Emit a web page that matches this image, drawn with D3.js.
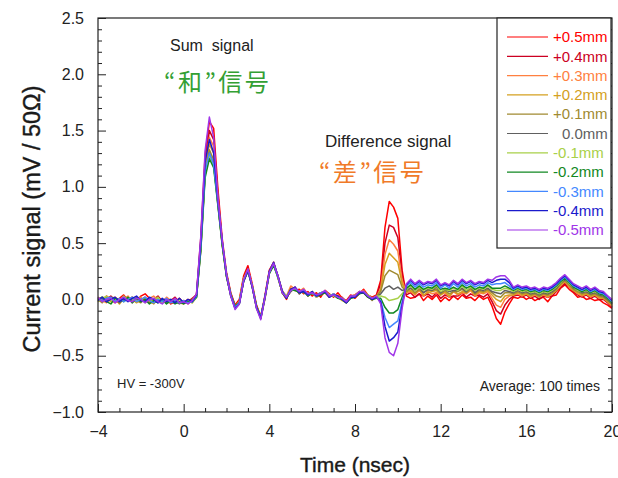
<!DOCTYPE html>
<html>
<head>
<meta charset="utf-8">
<script src="https://cdn.jsdelivr.net/npm/d3@7"></script>
<style>
  body { margin: 0; background: #fff; }
  svg { font-family: Arial, "Liberation Sans", sans-serif; }
</style>
</head>
<body>
<div id="viz"></div>
<script>
// sample times (nsec)
const time = [
  -4,-3.8,-3.6,-3.4,-3.2,-3,-2.8,-2.6,-2.4,-2.2,
  -2,-1.8,-1.6,-1.4,-1.2,-1,-0.8,-0.6,-0.4,-0.2,
  0,0.2,0.4,0.6,0.8,1,1.2,1.4,1.6,1.8,
  2,2.2,2.4,2.6,2.8,3,3.2,3.4,3.6,3.8,
  4,4.2,4.4,4.6,4.8,5,5.2,5.4,5.6,5.8,
  6,6.2,6.4,6.6,6.8,7,7.2,7.4,7.6,7.8,
  8,8.2,8.4,8.6,8.8,9,9.2,9.4,9.6,9.8,
  10,10.2,10.4,10.6,10.8,11,11.2,11.4,11.6,11.8,
  12,12.2,12.4,12.6,12.8,13,13.2,13.4,13.6,13.8,
  14,14.2,14.4,14.6,14.8,15,15.2,15.4,15.6,15.8,
  16,16.2,16.4,16.6,16.8,17,17.2,17.4,17.6,17.8,
  18,18.2,18.4,18.6,18.8,19,19.2,19.4,19.6,19.8,
  20
];

const labels = ['+0.5mm','+0.4mm','+0.3mm','+0.2mm','+0.1mm','0.0mm','-0.1mm','-0.2mm','-0.3mm','-0.4mm','-0.5mm'];

// current signal (mV / 50 ohm) per beam offset
const sigP05 = [0.01,-0.02,0.03,0.00,-0.03,0.01,0.04,-0.01,0.02,-0.02,0.03,0.05,0.01,-0.03,0.02,-0.01,0.01,-0.04,-0.02,0.01,-0.03,0.00,-0.01,
  0.05,0.55,1.28,1.58,1.52,0.98,0.54,
  0.24,0.06,-0.05,0.0,0.21,0.3,0.14,-0.05,-0.15,0.04,0.26,0.33,0.2,0.06,0.0,
  0.1,0.08,0.09,0.05,0.07,0.03,0.06,0.02,0.08,0.05,0.02,0.06,0.01,-0.01,0.04,0.01,0.05,0.09,0.04,0.02,0.04,
  0.17,0.64,0.87,0.82,0.72,0.26,
  0.03,0.01,0.02,0.05,-0.01,0.03,0.0,0.04,-0.02,0.02,-0.01,0.03,0.0,0.04,0.01,0.02,-0.01,0.03,0.0,0.02,
  -0.06,-0.17,-0.22,-0.11,-0.04,
  0.02,0.01,0.03,0.0,0.02,-0.01,0.01,0.02,-0.02,0.03,0.04,0.1,0.13,0.09,0.06,0.02,0.03,0.0,0.01,-0.01,0.0,-0.03,-0.05,-0.08];
const sigP04 = [-0.02,0.01,0.00,0.03,-0.01,-0.03,0.02,0.00,-0.02,0.01,-0.01,0.02,-0.03,0.00,0.03,-0.02,0.00,-0.01,0.02,-0.03,-0.01,-0.02,0.01,
  0.04,0.5,1.22,1.5,1.42,0.93,0.5,
  0.22,0.05,-0.06,-0.02,0.19,0.28,0.12,-0.06,-0.16,0.03,0.25,0.32,0.21,0.08,0.02,
  0.07,0.11,0.05,0.09,0.03,0.07,0.02,0.04,0.06,0.02,0.05,0.01,0.02,-0.02,0.03,0.04,0.07,0.06,0.02,0.01,0.03,
  0.14,0.5,0.66,0.64,0.55,0.22,
  0.04,0.06,0.02,0.05,0.03,0.05,0.02,0.06,0.01,0.04,0.02,0.03,0.03,0.06,0.02,0.05,0.03,0.04,0.02,0.05,
  -0.02,-0.1,-0.13,-0.05,0.0,
  0.03,0.04,0.02,0.04,0.01,0.03,0.0,0.03,0.02,0.03,0.07,0.11,0.14,0.11,0.07,0.04,0.02,0.04,0.01,0.03,0.0,0.0,-0.03,-0.07];
const sigP03 = [0.02,-0.01,-0.03,0.01,0.02,-0.01,0.00,0.03,-0.02,0.00,0.02,-0.02,0.01,0.03,-0.01,-0.03,0.02,-0.01,-0.03,0.00,-0.02,-0.04,0.00,
  0.03,0.48,1.18,1.44,1.36,0.9,0.5,
  0.2,0.04,-0.07,-0.03,0.18,0.27,0.11,-0.07,-0.17,0.01,0.23,0.33,0.19,0.07,0.03,
  0.12,0.09,0.07,0.1,0.04,0.05,0.04,0.06,0.07,0.04,0.03,0.04,0.0,-0.02,0.02,0.04,0.06,0.08,0.03,0.0,0.02,
  0.1,0.4,0.53,0.49,0.43,0.17,
  0.06,0.07,0.04,0.08,0.03,0.07,0.05,0.06,0.04,0.06,0.02,0.07,0.04,0.06,0.05,0.08,0.03,0.06,0.05,0.07,
  0.01,-0.05,-0.07,0.0,0.03,
  0.04,0.05,0.03,0.05,0.02,0.04,0.02,0.04,0.02,0.05,0.08,0.12,0.16,0.11,0.08,0.05,0.03,0.05,0.02,0.04,0.01,0.01,-0.02,-0.06];
const sigP02 = [-0.01,0.02,0.01,-0.02,0.01,-0.04,0.01,0.02,0.00,-0.03,0.00,0.01,-0.02,-0.04,0.01,-0.01,-0.03,-0.02,0.00,-0.03,-0.04,-0.01,-0.03,
  0.02,0.45,1.15,1.38,1.3,0.87,0.48,
  0.21,0.03,-0.06,-0.02,0.16,0.25,0.13,-0.06,-0.15,0.02,0.24,0.31,0.2,0.07,0.01,
  0.08,0.1,0.06,0.07,0.05,0.06,0.03,0.05,0.06,0.03,0.04,0.02,-0.01,-0.03,0.02,0.02,0.05,0.07,0.04,0.01,0.02,
  0.08,0.31,0.41,0.37,0.33,0.14,
  0.07,0.08,0.05,0.09,0.04,0.06,0.07,0.08,0.04,0.07,0.03,0.08,0.05,0.07,0.06,0.09,0.04,0.07,0.06,0.08,
  0.04,0.0,-0.02,0.03,0.04,
  0.04,0.06,0.04,0.05,0.03,0.05,0.02,0.05,0.03,0.05,0.08,0.13,0.16,0.12,0.08,0.06,0.04,0.05,0.03,0.04,0.02,0.01,-0.02,-0.05];
const sigP01 = [0.00,-0.03,0.02,0.00,-0.02,0.00,-0.01,0.00,0.02,-0.01,-0.03,0.01,-0.01,0.00,-0.02,-0.03,0.00,-0.03,-0.01,-0.02,-0.03,-0.02,-0.01,
  0.03,0.47,1.12,1.33,1.24,0.85,0.5,
  0.22,0.05,-0.07,-0.04,0.17,0.26,0.12,-0.07,-0.16,0.02,0.24,0.31,0.2,0.06,0.02,
  0.09,0.08,0.07,0.06,0.05,0.07,0.03,0.04,0.08,0.03,0.05,0.02,0.01,-0.02,0.01,0.03,0.06,0.06,0.03,-0.01,0.03,
  0.07,0.21,0.26,0.24,0.22,0.11,
  0.07,0.1,0.06,0.09,0.06,0.08,0.08,0.09,0.05,0.08,0.05,0.07,0.07,0.09,0.06,0.1,0.05,0.08,0.07,0.09,
  0.06,0.03,0.02,0.06,0.06,
  0.05,0.07,0.05,0.06,0.04,0.05,0.03,0.05,0.04,0.06,0.09,0.14,0.17,0.13,0.09,0.07,0.05,0.06,0.04,0.05,0.03,0.02,-0.01,-0.04];
const sig00 = [0.01,0.00,-0.02,0.02,0.01,-0.03,0.00,0.01,-0.03,0.02,-0.02,-0.01,0.01,-0.03,-0.01,-0.02,-0.03,0.00,-0.02,-0.04,-0.02,-0.03,0.00,
  0.02,0.44,1.1,1.3,1.2,0.84,0.49,
  0.23,0.04,-0.08,-0.03,0.17,0.25,0.11,-0.08,-0.16,0.03,0.23,0.31,0.21,0.07,0.02,
  0.07,0.1,0.05,0.08,0.04,0.05,0.04,0.06,0.07,0.02,0.04,0.03,0.0,-0.03,0.03,0.03,0.06,0.07,0.02,0.0,0.02,
  0.05,0.1,0.12,0.09,0.11,0.08,
  0.09,0.1,0.08,0.11,0.06,0.09,0.08,0.11,0.06,0.09,0.07,0.08,0.08,0.1,0.07,0.11,0.06,0.09,0.08,0.1,
  0.07,0.06,0.05,0.08,0.07,
  0.06,0.08,0.06,0.07,0.05,0.06,0.04,0.06,0.05,0.07,0.1,0.15,0.18,0.14,0.1,0.08,0.06,0.07,0.05,0.06,0.04,0.03,0.0,-0.04];
const sigM01 = [-0.02,0.01,0.03,-0.01,0.00,-0.02,0.03,-0.01,0.00,-0.01,0.01,-0.03,0.00,-0.01,0.02,-0.03,-0.01,-0.02,-0.03,0.00,-0.02,-0.01,-0.03,
  0.03,0.46,1.12,1.28,1.19,0.85,0.5,
  0.21,0.03,-0.07,-0.02,0.18,0.26,0.12,-0.07,-0.17,0.01,0.24,0.32,0.19,0.07,0.03,
  0.08,0.09,0.06,0.08,0.05,0.06,0.02,0.05,0.07,0.04,0.03,0.02,0.01,-0.02,0.02,0.03,0.07,0.06,0.04,0.01,0.03,
  0.03,0.02,-0.01,0.0,0.01,0.05,
  0.09,0.12,0.08,0.11,0.08,0.1,0.09,0.12,0.07,0.09,0.08,0.1,0.08,0.12,0.08,0.11,0.08,0.1,0.09,0.12,
  0.09,0.08,0.08,0.1,0.09,
  0.07,0.09,0.07,0.08,0.06,0.07,0.05,0.07,0.06,0.08,0.11,0.15,0.19,0.14,0.11,0.08,0.07,0.08,0.06,0.07,0.05,0.04,0.01,-0.03];
const sigM02 = [0.00,0.02,-0.02,-0.04,0.01,0.00,-0.02,0.02,-0.03,0.01,-0.02,0.00,-0.04,-0.01,-0.03,0.00,-0.04,-0.01,-0.04,-0.02,-0.04,-0.02,-0.02,
  0.02,0.43,1.08,1.25,1.17,0.83,0.48,
  0.2,0.04,-0.06,-0.03,0.16,0.25,0.12,-0.06,-0.16,0.02,0.23,0.3,0.2,0.06,0.01,
  0.09,0.08,0.06,0.07,0.03,0.06,0.03,0.04,0.06,0.03,0.04,0.01,0.0,-0.03,0.01,0.02,0.05,0.06,0.02,0.0,0.01,
  0.01,-0.07,-0.12,-0.12,-0.09,0.02,
  0.1,0.13,0.09,0.12,0.09,0.11,0.1,0.13,0.09,0.1,0.09,0.11,0.09,0.13,0.1,0.12,0.09,0.11,0.1,0.13,
  0.1,0.1,0.1,0.12,0.1,
  0.08,0.1,0.08,0.09,0.07,0.08,0.06,0.08,0.07,0.09,0.12,0.16,0.19,0.15,0.11,0.09,0.07,0.09,0.06,0.08,0.05,0.04,0.01,-0.03];
const sigM03 = [0.01,-0.01,0.01,0.02,-0.02,0.01,-0.02,0.00,0.02,-0.02,0.00,0.02,-0.01,-0.03,0.00,-0.02,0.01,-0.03,-0.01,-0.03,-0.01,-0.03,-0.02,
  0.03,0.48,1.14,1.3,1.2,0.86,0.51,
  0.22,0.04,-0.07,-0.03,0.17,0.26,0.12,-0.07,-0.16,0.03,0.24,0.32,0.2,0.07,0.02,
  0.08,0.1,0.07,0.08,0.04,0.06,0.03,0.06,0.07,0.03,0.05,0.02,0.0,-0.02,0.02,0.03,0.06,0.07,0.03,0.01,0.02,
  -0.01,-0.16,-0.25,-0.22,-0.19,-0.02,
  0.12,0.15,0.11,0.14,0.11,0.13,0.12,0.15,0.1,0.13,0.1,0.14,0.11,0.15,0.12,0.14,0.11,0.13,0.12,0.15,
  0.13,0.14,0.14,0.15,0.12,
  0.09,0.11,0.09,0.1,0.08,0.09,0.07,0.09,0.08,0.1,0.13,0.17,0.2,0.16,0.12,0.1,0.08,0.1,0.07,0.09,0.06,0.05,0.02,-0.02];
const sigM04 = [-0.01,0.02,-0.02,0.00,0.02,-0.02,0.01,-0.02,0.01,0.03,-0.01,-0.02,0.02,0.00,-0.03,0.01,-0.02,0.00,-0.03,0.01,-0.03,0.00,-0.02,
  0.04,0.52,1.22,1.42,1.3,0.88,0.52,
  0.21,0.03,-0.08,-0.04,0.16,0.26,0.11,-0.07,-0.17,0.02,0.25,0.33,0.21,0.07,0.01,
  0.09,0.11,0.06,0.07,0.04,0.07,0.03,0.05,0.07,0.02,0.04,0.03,0.0,-0.03,0.02,0.02,0.06,0.06,0.03,0.0,0.02,
  -0.02,-0.24,-0.37,-0.34,-0.29,-0.05,
  0.13,0.17,0.13,0.16,0.13,0.15,0.14,0.17,0.12,0.14,0.12,0.16,0.13,0.17,0.14,0.16,0.13,0.15,0.14,0.17,
  0.15,0.17,0.18,0.18,0.15,
  0.1,0.12,0.1,0.11,0.09,0.1,0.08,0.1,0.09,0.11,0.14,0.18,0.21,0.17,0.13,0.11,0.09,0.11,0.08,0.1,0.07,0.06,0.03,-0.01];
const sigM05 = [0.02,-0.02,0.00,0.01,-0.03,0.00,0.02,-0.01,-0.02,0.01,0.00,-0.03,0.00,0.01,-0.02,-0.04,0.00,-0.02,0.01,-0.03,-0.02,-0.04,-0.01,
  0.05,0.56,1.32,1.62,1.44,0.9,0.52,
  0.22,0.03,-0.09,-0.04,0.17,0.27,0.12,-0.08,-0.18,0.02,0.24,0.32,0.21,0.06,0.02,
  0.08,0.1,0.07,0.09,0.05,0.06,0.04,0.05,0.08,0.03,0.04,0.02,0.01,-0.02,0.03,0.03,0.07,0.07,0.03,0.01,0.03,
  -0.04,-0.34,-0.47,-0.5,-0.39,-0.08,
  0.14,0.18,0.14,0.17,0.14,0.16,0.15,0.18,0.13,0.15,0.13,0.17,0.14,0.18,0.15,0.17,0.14,0.16,0.15,0.18,
  0.17,0.2,0.21,0.21,0.17,
  0.11,0.13,0.11,0.12,0.1,0.11,0.09,0.11,0.1,0.12,0.15,0.19,0.22,0.18,0.14,0.12,0.1,0.12,0.09,0.11,0.08,0.07,0.03,0.0];

const signals = [sigP05, sigP04, sigP03, sigP02, sigP01, sig00, sigM01, sigM02, sigM03, sigM04, sigM05];

const xTickValues = [-4, 0, 4, 8, 12, 16, 20];
const yTickValues = [-1.0, -0.5, 0.0, 0.5, 1.0, 1.5, 2.0, 2.5];

// styling
const lineColors = ['#ff0000','#cc0022','#ff8040','#d4a020','#a08a30','#606060','#a8d048','#118822','#4488ff','#1a1acc','#a035e8'];

var W = 618, H = 478,
    plot = { left: 98, right: 612, top: 18, bottom: 412 };

var svg = d3.select('#viz').append('svg')
  .attr('width', W)
  .attr('height', H);

svg.append('rect').attr('width', W).attr('height', H).attr('fill', '#fff');

var x = d3.scaleLinear().domain([-4, 20]).range([plot.left, plot.right]);
var y = d3.scaleLinear().domain([-1, 2.5]).range([plot.bottom, plot.top]);

var minorX = d3.range(-4, 20.001, 1).filter(v => v % 4 !== 0);
var minorY = d3.range(-10, 26, 1).map(v => v / 10).filter(v => Math.abs(v * 2 - Math.round(v * 2)) > 1e-6);

// bottom axis, ticks inward
svg.append('g').attr('transform', 'translate(0,' + plot.bottom + ')')
  .call(d3.axisBottom(x).tickValues(minorX).tickSize(-4).tickSizeOuter(0).tickFormat(''))
  .call(g => g.select('.domain').remove());
var xAxis = svg.append('g').attr('transform', 'translate(0,' + plot.bottom + ')')
  .call(d3.axisBottom(x).tickValues(xTickValues).tickSize(-8).tickSizeOuter(0).tickPadding(14).tickFormat(d3.format('d')));
xAxis.select('.domain').remove();

// left axis
svg.append('g').attr('transform', 'translate(' + plot.left + ',0)')
  .call(d3.axisLeft(y).tickValues(minorY).tickSize(-4).tickSizeOuter(0).tickFormat(''))
  .call(g => g.select('.domain').remove());
var yAxis = svg.append('g').attr('transform', 'translate(' + plot.left + ',0)')
  .call(d3.axisLeft(y).tickValues(yTickValues).tickSize(-8).tickSizeOuter(0).tickPadding(14).tickFormat(d3.format('.1f')));
yAxis.select('.domain').remove();

// right axis ticks
svg.append('g').attr('transform', 'translate(' + plot.right + ',0)')
  .call(d3.axisRight(y).tickValues(minorY).tickSize(-4).tickSizeOuter(0).tickFormat(''))
  .call(g => g.select('.domain').remove());
svg.append('g').attr('transform', 'translate(' + plot.right + ',0)')
  .call(d3.axisRight(y).tickValues(yTickValues).tickSize(-8).tickSizeOuter(0).tickFormat(''))
  .call(g => g.select('.domain').remove());

svg.selectAll('.tick line').attr('stroke', '#222');
svg.selectAll('.tick text').attr('font-size', 16).attr('fill', '#222').attr('font-family', 'Arial, "Liberation Sans", sans-serif');

// traces
var line = d3.line()
  .x((d, i) => x(time[i]))
  .y(d => y(d));

svg.append('g').selectAll('path').data(signals)
  .enter().append('path')
    .attr('d', d => line(d))
    .attr('fill', 'none')
    .attr('stroke', (d, i) => lineColors[i])
    .attr('stroke-width', 1.5)
    .attr('stroke-linejoin', 'round');

// frame
svg.append('rect')
  .attr('x', plot.left).attr('y', plot.top)
  .attr('width', plot.right - plot.left).attr('height', plot.bottom - plot.top)
  .attr('fill', 'none').attr('stroke', '#222').attr('stroke-width', 1.2);

// legend
var leg = svg.append('g');
leg.append('rect')
  .attr('x', 497).attr('y', plot.top).attr('width', 114).attr('height', 230)
  .attr('fill', '#fff').attr('stroke', '#222').attr('stroke-width', 1.2);
var items = leg.selectAll('g.item').data(labels).enter().append('g')
  .attr('class', 'item')
  .attr('transform', (d, i) => 'translate(0,' + (37 + i * 19.3) + ')');
items.append('line')
  .attr('x1', 507).attr('x2', 548)
  .attr('stroke', (d, i) => lineColors[i]).attr('stroke-width', 1.2);
items.append('text')
  .attr('x', d => /^[+-]/.test(d) ? 553 : 562)
  .attr('dy', '0.35em')
  .attr('font-size', 15)
  .attr('fill', (d, i) => lineColors[i])
  .text(d => d);

// axis titles
svg.append('text')
  .attr('x', (plot.left + plot.right) / 2).attr('y', 472)
  .attr('text-anchor', 'middle').attr('font-size', 21).attr('fill', '#1a1a1a')
  .attr('stroke', '#1a1a1a').attr('stroke-width', 0.4)
  .text('Time (nsec)');
svg.append('text')
  .attr('transform', 'translate(40,219) rotate(-90)')
  .attr('text-anchor', 'middle').attr('font-size', 23.5).attr('fill', '#1a1a1a')
  .attr('stroke', '#1a1a1a').attr('stroke-width', 0.4)
  .text('Current signal (mV / 50Ω)');

// annotations
svg.append('text').attr('x', 170).attr('y', 51).attr('font-size', 16).attr('fill', '#222')
  .style('white-space', 'pre').text('Sum  signal');
svg.append('text').attr('x', 164).attr('y', 91).attr('font-size', 24).attr('letter-spacing', 2.5).attr('fill', '#33a033')
  .attr('font-family', '"Noto Sans CJK JP", sans-serif').text('“和”信号');
svg.append('text').attr('x', 325).attr('y', 147).attr('font-size', 17).attr('fill', '#222')
  .text('Difference signal');
svg.append('text').attr('x', 319).attr('y', 181).attr('font-size', 24).attr('letter-spacing', 2.5).attr('fill', '#f07a28')
  .attr('font-family', '"Noto Sans CJK JP", sans-serif').text('“差”信号');
svg.append('text').attr('x', 117).attr('y', 388).attr('font-size', 13).attr('fill', '#222')
  .text('HV = -300V');
svg.append('text').attr('x', 600).attr('y', 391).attr('text-anchor', 'end').attr('font-size', 14).attr('fill', '#222')
  .text('Average: 100 times');
</script>
</body>
</html>
